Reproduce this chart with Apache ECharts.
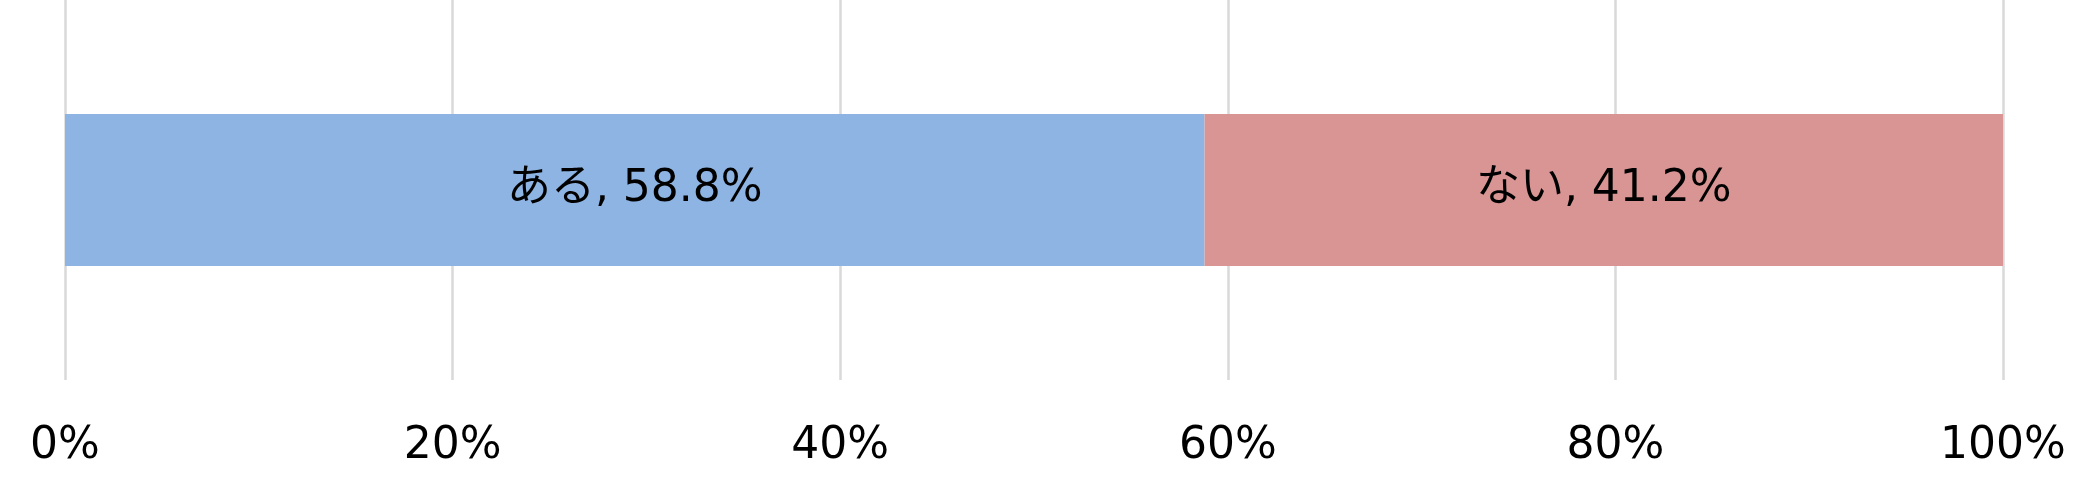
<!DOCTYPE html>
<html>
<head>
<meta charset="utf-8">
<script src="https://cdn.jsdelivr.net/npm/echarts@6/dist/echarts.min.js"></script>
<style>html,body{margin:0;padding:0;background:#fff}#c{width:2097px;height:488px}</style>
</head>
<body>
<div id="c"></div>
<script>
const categories = [''];
const seriesNames = ['ある', 'ない'];
const seriesValues = [[58.8], [41.2]];
const seriesColors = ['#8EB4E3', '#D99594'];
const tickMin = 0, tickMax = 100, tickStep = 20;

const chart = echarts.init(document.getElementById('c'));
const font = '"DejaVu Sans", "Noto Sans CJK JP", sans-serif';
chart.setOption({
  animation: false,
  grid: { left: 65, right: 94, top: 0, bottom: 108, containLabel: false },
  xAxis: {
    type: 'value', min: tickMin, max: tickMax, interval: tickStep,
    axisLine: { show: false }, axisTick: { show: false },
    splitLine: { show: true, lineStyle: { color: '#d9d9d9', width: 2.5 } },
    axisLabel: { formatter: '{value}%', fontSize: 44, fontFamily: font, color: '#000', margin: 45 }
  },
  yAxis: {
    type: 'category', data: categories,
    axisLine: { show: false }, axisTick: { show: false }, axisLabel: { show: false }
  },
  series: seriesNames.map((n, i) => ({
    name: n, type: 'bar', stack: 'total', data: seriesValues[i], barWidth: 152,
    itemStyle: { color: seriesColors[i] },
    label: { show: true, position: 'inside', formatter: '{a}, {c}%', fontSize: 44, fontFamily: font, color: '#000' }
  }))
});
</script>
</body>
</html>
